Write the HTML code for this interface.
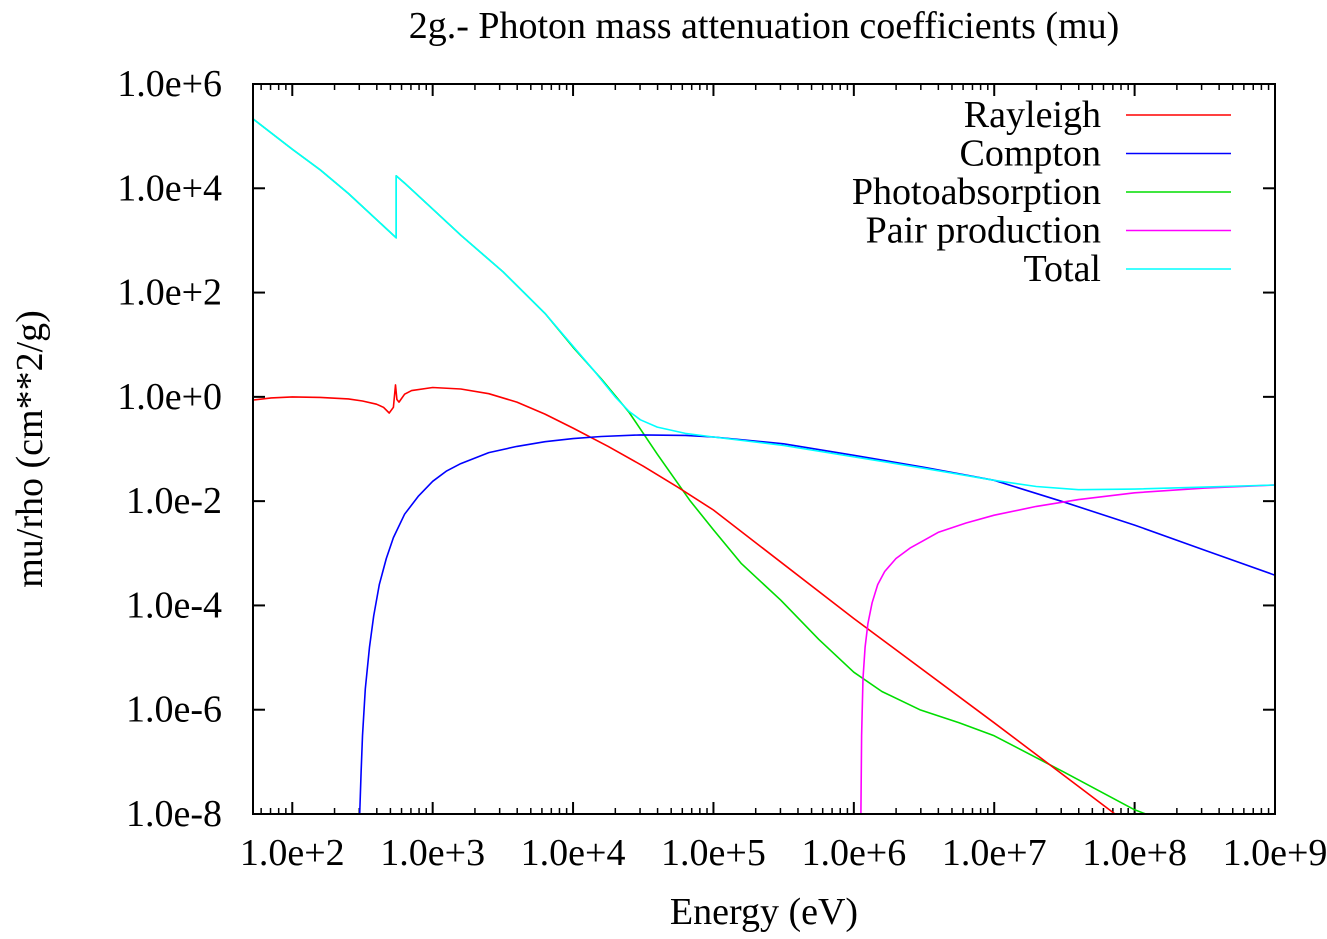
<!DOCTYPE html>
<html><head><meta charset="utf-8"><style>
body{margin:0;background:#fff;}
svg text{font-family:"Liberation Serif",serif;fill:#000;}
</style></head><body>
<svg id="chart" width="1327" height="934" xmlns="http://www.w3.org/2000/svg">
<text x="764" y="38" font-size="38" text-anchor="middle">2g.- Photon mass attenuation coefficients (mu)</text>
<text x="764" y="924" font-size="38" text-anchor="middle">Energy (eV)</text>
<text transform="translate(42,449) rotate(-90)" font-size="38" text-anchor="middle">mu/rho (cm**2/g)</text>
<g id="ticks"></g>
<g id="series"></g>
<g id="legend"></g>
<rect x="253" y="84" width="1022" height="730" fill="none" stroke="#000" stroke-width="2"/>
</svg>
<script>
const xTicks=[2,3,4,5,6,7,8,9];
const yTicks=[6,4,2,0,-2,-4,-6,-8];
const yTickLabels=["1.0e+6","1.0e+4","1.0e+2","1.0e+0","1.0e-2","1.0e-4","1.0e-6","1.0e-8"];
const xTickLabels=["1.0e+2","1.0e+3","1.0e+4","1.0e+5","1.0e+6","1.0e+7","1.0e+8","1.0e+9"];
const seriesNames=["Rayleigh","Compton","Photoabsorption","Pair production","Total"];
const seriesColors=["#ff0000","#0000ff","#00dd00","#ff00ff","#00ffff"];
// log10(E), log10(mu)
const rayleighE=[1.72,1.85,2.0,2.2,2.4,2.5,2.6,2.65,2.69,2.72,2.735,2.745,2.76,2.8,2.85,3.0,3.2,3.4,3.6,3.8,4.0,4.25,4.5,4.75,5.0,6.0,7.0,7.86];
const rayleighMu=[-0.06,-0.02,0.0,-0.01,-0.04,-0.08,-0.14,-0.2,-0.31,-0.2,0.23,-0.05,-0.1,0.05,0.12,0.18,0.15,0.06,-0.1,-0.33,-0.6,-0.95,-1.33,-1.74,-2.17,-4.25,-6.25,-8.0];
const comptonE=[2.48,2.49,2.5,2.52,2.55,2.58,2.62,2.67,2.72,2.8,2.9,3.0,3.1,3.2,3.4,3.6,3.8,4.0,4.2,4.48,4.8,5.0,5.5,6.0,6.5,7.0,7.5,8.0,8.5,9.0];
const comptonMu=[-8.0,-7.2,-6.5,-5.6,-4.8,-4.2,-3.6,-3.1,-2.7,-2.25,-1.9,-1.62,-1.42,-1.28,-1.07,-0.95,-0.86,-0.8,-0.76,-0.73,-0.74,-0.77,-0.9,-1.12,-1.35,-1.6,-2.02,-2.46,-2.94,-3.42];
const photoE=[1.72,2.0,2.2,2.4,2.6,2.74,2.74,2.8,3.0,3.2,3.5,3.8,4.0,4.2,4.4,4.6,4.83,5.0,5.2,5.48,5.75,6.0,6.2,6.47,6.75,7.0,7.5,8.0,8.08];
const photoMu=[5.33,4.75,4.35,3.9,3.4,3.05,4.24,4.1,3.6,3.1,2.4,1.6,0.95,0.35,-0.3,-1.1,-1.98,-2.55,-3.2,-3.9,-4.65,-5.28,-5.65,-6.0,-6.25,-6.5,-7.2,-7.92,-8.0];
const pairE=[6.05,6.055,6.065,6.08,6.1,6.13,6.17,6.22,6.3,6.4,6.5,6.6,6.8,7.0,7.3,7.6,8.0,8.5,9.0];
const pairMu=[-8.0,-6.5,-5.4,-4.8,-4.35,-3.95,-3.6,-3.35,-3.1,-2.9,-2.75,-2.6,-2.42,-2.27,-2.1,-1.97,-1.84,-1.75,-1.69];
const totalE=[1.72,2.0,2.2,2.4,2.6,2.74,2.74,2.8,3.0,3.2,3.5,3.8,4.0,4.15,4.3,4.4,4.48,4.6,4.8,5.0,5.5,6.0,6.5,7.0,7.3,7.6,8.0,8.5,9.0];
const totalMu=[5.33,4.75,4.35,3.9,3.4,3.05,4.24,4.1,3.6,3.1,2.4,1.6,0.97,0.5,0.0,-0.28,-0.44,-0.58,-0.7,-0.77,-0.93,-1.15,-1.37,-1.6,-1.72,-1.78,-1.77,-1.73,-1.69];

const L=253,R=1275,T=84,B=814,xMin=Math.log10(52.5),xMax=9,yMin=-8,yMax=6;
const X=v=>L+(v-xMin)/(xMax-xMin)*(R-L);
const Y=v=>B-(v-yMin)/(yMax-yMin)*(B-T);
const NS="http://www.w3.org/2000/svg";
function mk(tag,attrs,parent){const e=document.createElementNS(NS,tag);for(const k in attrs)e.setAttribute(k,attrs[k]);parent.appendChild(e);return e;}
const tg=document.getElementById('ticks');
for(let d=1;d<=9;d++){for(let m=2;m<=9;m++){const v=d+Math.log10(m);if(v<xMin||v>xMax)continue;const x=X(v);
 const a=mk('line',{x1:x,x2:x,y1:B,y2:B-6,stroke:'#000','stroke-width':1.5},tg);
 
 
 const b=mk('line',{x1:x,x2:x,y1:T,y2:T+6,stroke:'#000','stroke-width':1.5},tg);
 
 
}}
xTicks.forEach((v,i)=>{const x=X(v);
 const t1=mk('line',{x1:x,x2:x,y1:B,y2:B-12,stroke:'#000','stroke-width':2},tg);
 
 
 const t2=mk('line',{x1:x,x2:x,y1:T,y2:T+12,stroke:'#000','stroke-width':2},tg);
 
 
 const tx=mk('text',{x:x,y:865,'font-size':38,'text-anchor':'middle'},tg);tx.textContent=xTickLabels[i];
 
 
});
yTicks.forEach((v,i)=>{const y=Y(v);
 const t1=mk('line',{x1:L,x2:L+12,y1:y,y2:y,stroke:'#000','stroke-width':2},tg);
 
 
 const t2=mk('line',{x1:R,x2:R-12,y1:y,y2:y,stroke:'#000','stroke-width':2},tg);
 
 
 const tx=mk('text',{x:222,y:y+12,'font-size':38,'text-anchor':'end'},tg);tx.textContent=yTickLabels[i];
 
 
});
const sg=document.getElementById('series');
const allE=[rayleighE,comptonE,photoE,pairE,totalE],allMu=[rayleighMu,comptonMu,photoMu,pairMu,totalMu];
const keys=['rayleigh','compton','photoabsorption','pair-production','total'];
[2,0,1,3,4].forEach(i=>{
 const pts=allE[i].map((e,j)=>X(e).toFixed(1)+','+Y(allMu[i][j]).toFixed(1)).join(' ');
 const p=mk('polyline',{points:pts,fill:'none',stroke:seriesColors[i],'stroke-width':1.6,'stroke-linejoin':'round'},sg);
 
 
});
const lg=document.getElementById('legend');
seriesNames.forEach((n,i)=>{const y=115+i*38.5;
 const t=mk('text',{x:1101,y:y+12,'font-size':38,'text-anchor':'end'},lg);t.textContent=n;
 
 
 const l=mk('line',{x1:1126,x2:1231,y1:y,y2:y,stroke:seriesColors[i],'stroke-width':1.6},lg);
 
 
});
</script>
</body></html>
